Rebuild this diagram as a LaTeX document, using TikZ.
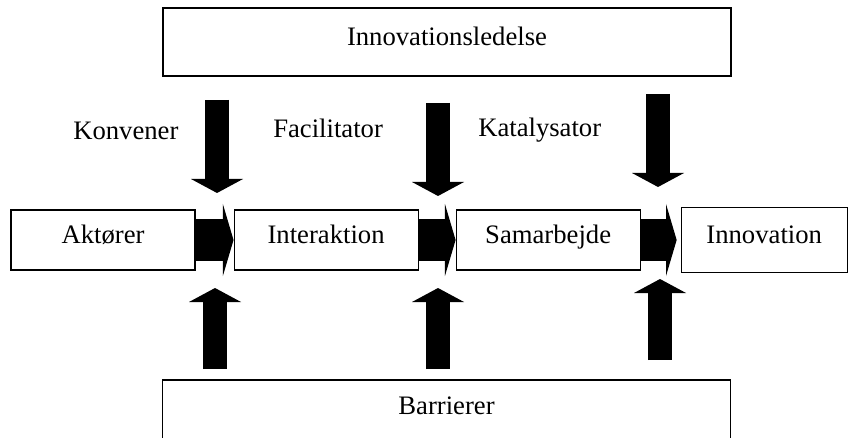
\documentclass[tikz,border=0pt]{standalone}
\usepackage{fontspec}
\setmainfont{Liberation Serif}
\usetikzlibrary{arrows.meta, positioning}
\tikzset{
    box/.style = {draw, rectangle, line width=0.8pt, minimum height=45pt, minimum width=138pt, inner sep=2pt, text height=1.5ex, text depth=.3ex},
    wide/.style = {box, minimum width=426pt, minimum height=51pt},
    label/.style = {anchor=west, inner sep=0pt},
    varrow/.style = {line width=18pt, -{Triangle[length=10.5pt, width=39pt, line width=0pt]}},
    harrow/.style = {line width=32pt, -{Triangle[length=8pt, width=54pt, line width=0pt]}}
}
\begin{document}
\begin{tikzpicture}[x=0.75pt, y=-0.75pt, font=\fontsize{20}{24}\selectfont]
    \useasboundingbox (0,0) rectangle (848,438);
    % Kasser
    \node [wide] (ledelse) at (447,42) {Innovationsledelse};
    \node [box] (aktorer) at (103,240) {Aktører};
    \node [box, right=28.5pt of aktorer] (interaktion) {Interaktion};
    \node [box, right=27.75pt of interaktion] (samarbejde) {Samarbejde};
    \node [box, right=30pt of samarbejde, minimum width=124.5pt, minimum height=48.75pt] (innovation) {Innovation};
    \node [wide, minimum height=46.5pt] (barrierer) at (446.5,411) {Barrierer};
    \node [label] (konvener) at (73,131) {Konvener};
    \node [label] (facilitator) at (273,128) {Facilitator};
    \node [label] (katalysator) at (478,130) {Katalysator};

    % Endepunkter for pilene
    \coordinate (d1) at (217,100);  \coordinate (d1e) at (217,193);
    \coordinate (d2) at (438,103);  \coordinate (d2e) at (438,196);
    \coordinate (d3) at (658,94);   \coordinate (d3e) at (658,187);
    \coordinate (u1) at (215,369);  \coordinate (u1e) at (215,288);
    \coordinate (u2) at (438,369);  \coordinate (u2e) at (438,288);
    \coordinate (u3) at (660,360);  \coordinate (u3e) at (660,279);

    % Pile
    \draw [harrow] (aktorer) -- (interaktion);
    \draw [harrow] (interaktion) -- (samarbejde);
    \draw [harrow, shorten >=3pt] (samarbejde) -- (innovation);
    \draw [varrow] (d1) -- (d1e);
    \draw [varrow] (d2) -- (d2e);
    \draw [varrow] (d3) -- (d3e);
    \draw [varrow] (u1) -- (u1e);
    \draw [varrow] (u2) -- (u2e);
    \draw [varrow] (u3) -- (u3e);
\end{tikzpicture}
\end{document}
